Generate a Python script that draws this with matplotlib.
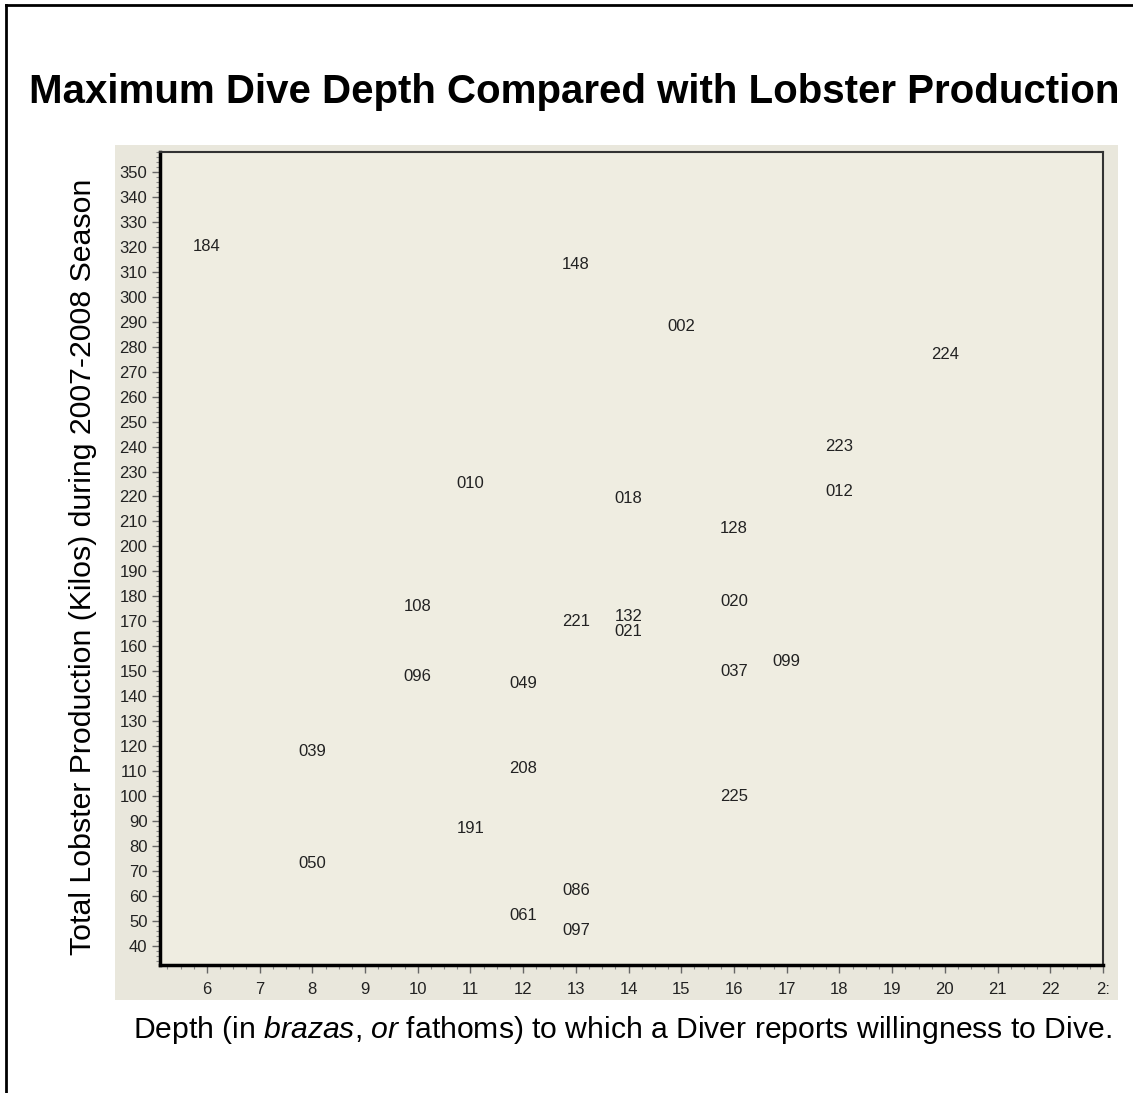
import matplotlib
matplotlib.use("Agg")
import matplotlib.pyplot as plt
from matplotlib.ticker import AutoMinorLocator
from matplotlib.patches import Rectangle
from matplotlib.lines import Line2D

plt.rcParams['font.family'] = ['Liberation Sans', 'DejaVu Sans']
plt.rcParams['mathtext.fontset'] = 'custom'
plt.rcParams['mathtext.it'] = 'Liberation Sans:italic'
plt.rcParams['mathtext.rm'] = 'Liberation Sans'

# Data: diver id, max dive depth (brazas), production (kilos)
diver_ids = ["184", "148", "002", "224", "223", "012", "010", "018", "128",
             "020", "108", "221", "132", "021", "099", "037", "096", "049",
             "039", "208", "225", "191", "050", "086", "061", "097"]
depths = [6, 13, 15, 20, 18, 18, 11, 14, 16,
          16, 10, 13, 14, 14, 17, 16, 10, 12,
          8, 12, 16, 11, 8, 13, 12, 13]
production = [320, 313, 288, 277, 240, 222, 225, 219, 207,
              178, 176, 170, 172, 166, 154, 150, 148, 145,
              118, 111, 100, 87, 73, 62, 52, 46]

x_ticks = list(range(6, 24))
y_ticks = list(range(40, 360, 10))

W, H = 1133, 1093
fig = plt.figure(figsize=(W / 100, H / 100), dpi=100)
fig.patch.set_facecolor("white")

# outer shaded panel
fig.add_artist(Rectangle((115 / W, 1 - 1000 / H), (1118 - 115) / W, (1000 - 145) / H,
                         transform=fig.transFigure, facecolor="#E9E7DC",
                         edgecolor="none", zorder=0))
# frame lines (left, top)
fig.add_artist(Line2D([6 / W, 6 / W], [0, 1 - 5 / H], transform=fig.transFigure,
                      color="black", lw=2))
fig.add_artist(Line2D([6 / W, 1], [1 - 5 / H, 1 - 5 / H], transform=fig.transFigure,
                      color="black", lw=2))

ax = fig.add_axes([160 / W, 1 - 965 / H, (1103 - 160) / W, (965 - 152) / H])
ax.set_facecolor("#EFEDE1")
ax.set_xlim(5.11, 22.95)
ax.set_ylim(32.3, 358)

for lab, x, y in zip(diver_ids, depths, production):
    ax.text(x, y, lab, ha="center", va="center", fontsize=12, color="#222222")

ax.set_xticks(x_ticks)
ax.set_xticklabels([str(t) for t in x_ticks[:-1]] + ["2:"])
ax.set_yticks(y_ticks)
ax.xaxis.set_minor_locator(AutoMinorLocator(4))
ax.yaxis.set_minor_locator(AutoMinorLocator(5))
ax.tick_params(axis="both", which="major", length=6, width=1, color="#666666",
               labelsize=12, labelcolor="#222222")
ax.tick_params(axis="both", which="minor", length=3, width=0.8, color="#888888")
ax.tick_params(axis="x", pad=6)
ax.tick_params(axis="y", pad=3)

for side in ["left", "bottom"]:
    ax.spines[side].set_linewidth(2.5)
    ax.spines[side].set_color("black")
for side in ["top", "right"]:
    ax.spines[side].set_linewidth(1.5)
    ax.spines[side].set_color("#333333")

fig.text(574 / W, 1 - 92 / H, "Maximum Dive Depth Compared with Lobster Production",
         ha="center", va="center", fontsize=29, fontweight="bold")
fig.text(83 / W, 1 - 567 / H,
         "Total Lobster Production (Kilos) during 2007-2008 Season",
         rotation=90, ha="center", va="center", fontsize=21.8)
fig.text(622 / W, 1 - 1030 / H,
         r"Depth (in $\mathit{brazas}$, $\mathit{or}$ fathoms) to which a Diver reports willingness to Dive.",
         ha="center", va="center", fontsize=21.7)

fig.savefig("out.png", dpi=100)
